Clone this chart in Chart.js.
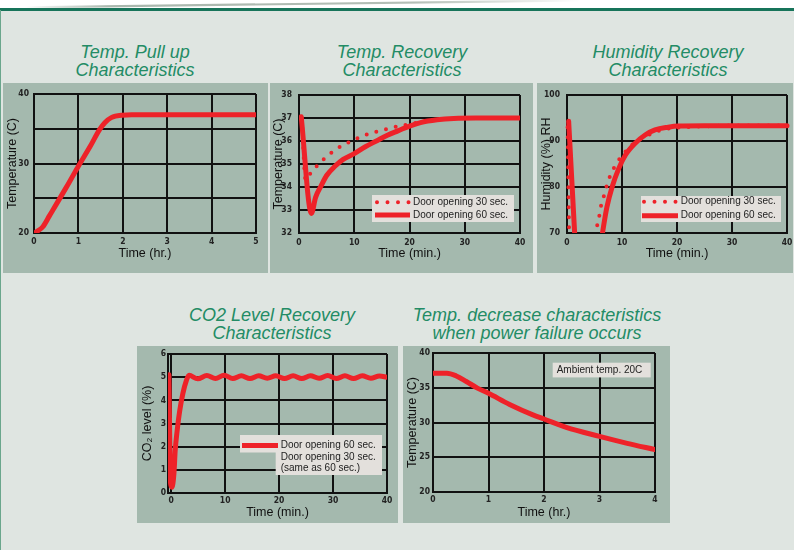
<!DOCTYPE html>
<html>
<head>
<meta charset="utf-8">
<script src="https://cdn.jsdelivr.net/npm/chart.js@4/dist/chart.umd.min.js"></script>
<style>
  html, body { margin: 0; padding: 0; }
  body { width: 794px; height: 550px; background: #dfe5e1; position: relative; overflow: hidden;
         font-family: "Liberation Sans", Arial, sans-serif; }
  .topband { position: absolute; left: 0; top: 0; width: 794px; height: 8px; background: #fff; }
  .rule { position: absolute; left: 0; top: 8px; width: 794px; height: 2.5px; background: #17745a; }
  .edge { position: absolute; left: 0; top: 10px; width: 1px; height: 540px; background: #6aa68c; }
  .panel { position: absolute; background: #a4b9ae; }
  .panel canvas { display: block; }
  .title { position: absolute; width: 320px; color: #238c65; font-style: italic; font-size: 18px;
           text-align: center; white-space: nowrap; }
</style>
</head>
<body>
<div class="topband"></div>
<svg style="position:absolute;left:0;top:0" width="794" height="11">
  <defs>
    <linearGradient id="swoosh" x1="0" x2="1" y1="0" y2="0">
      <stop offset="0" stop-color="#ffffff"/>
      <stop offset="0.15" stop-color="#a9b7ad"/>
      <stop offset="0.7" stop-color="#b4bfb7"/>
      <stop offset="1" stop-color="#ffffff"/>
    </linearGradient>
  </defs>
  <polygon points="25,6.2 580,-0.6 580,1.6 25,8.4" fill="url(#swoosh)"/>
</svg>
<div class="rule"></div>
<div class="edge"></div>

<div class="title" style="left:-25px;top:43px;line-height:18px">Temp. Pull up<br>Characteristics</div>
<div class="title" style="left:242px;top:43px;line-height:18px">Temp. Recovery<br>Characteristics</div>
<div class="title" style="left:508px;top:43px;line-height:18px">Humidity Recovery<br>Characteristics</div>
<div class="title" style="left:112px;top:307px;line-height:17.5px">CO2 Level Recovery<br>Characteristics</div>
<div class="title" style="left:377px;top:307px;line-height:17.5px">Temp. decrease characteristics<br>when power failure occurs</div>

<div class="panel" style="left:3px;top:83px;width:265px;height:190px"><canvas id="pullUp" width="265" height="190"></canvas></div>
<div class="panel" style="left:270px;top:83px;width:263px;height:190px"><canvas id="tempRecovery" width="263" height="190"></canvas></div>
<div class="panel" style="left:537px;top:83px;width:256px;height:190px"><canvas id="humidityRecovery" width="256" height="190"></canvas></div>
<div class="panel" style="left:137px;top:346px;width:261px;height:177px"><canvas id="co2Recovery" width="261" height="177"></canvas></div>
<div class="panel" style="left:403px;top:346px;width:267px;height:177px"><canvas id="powerFailure" width="267" height="177"></canvas></div>

<script>
// ---- Temp. pull up (hours / deg C)
const pullUpHours = [0.04, 0.2, 0.35, 0.73, 0.98, 1.26, 1.48, 1.6, 1.74, 1.98, 2.2, 3, 4, 5];
const pullUpTemp  = [20.1, 20.9, 22.5, 26.6, 29.4, 32.4, 34.9, 35.9, 36.6, 36.95, 37.0, 37.0, 37.0, 37.0];
const pullUpXTicks = [0, 1, 2, 3, 4, 5];
const pullUpXLabels = ['0', '1', '2', '3', '4', '5'];
const pullUpYTicks = [20, 25, 30, 35, 40];
const pullUpYLabels = ['20', '', '30', '', '40'];

// ---- Temp. recovery after door opening (minutes / deg C)
const recov60Min  = [0.4, 2.25, 3, 4, 5, 6.5, 8, 10, 12, 14, 16, 18, 20, 22, 25, 28, 32, 40];
const recov60Temp = [37.05, 32.85, 33.55, 34.05, 34.5, 34.9, 35.2, 35.45, 35.75, 36.0, 36.25, 36.45, 36.65, 36.8, 36.92, 36.98, 37.0, 37.0];
const recov30Min  = [0.5, 1.2, 2.1, 3.4, 4.8, 6.2, 7.8, 9.5, 11.3, 13, 14.8, 16.6, 18.4, 20.2, 23, 26, 30, 40];
const recov30Temp = [37.0, 34.3, 34.6, 34.95, 35.28, 35.55, 35.8, 36.0, 36.2, 36.34, 36.45, 36.57, 36.66, 36.74, 36.88, 36.95, 37.0, 37.0];
const minuteTicks = [0, 10, 20, 30, 40];
const minuteLabels = ['0', '10', '20', '30', '40'];
const recovYTicks = [32, 33, 34, 35, 36, 37, 38];
const recovYLabels = ['32', '33', '34', '35', '36', '37', '38'];

// ---- Humidity recovery (minutes / % RH); null = curve runs below the axis
const hum60Min = [0.3, 1.5, 3.8, 6.2, 6.45, 7.25, 8.2, 9.4, 10.6, 12.4, 14.2, 16, 18.4, 20.2, 25, 30, 40];
const hum60RH  = [94.3, 67.5, null, 68, 70, 75.6, 80, 84, 86.9, 89.5, 91.3, 92.4, 93, 93.25, 93.3, 93.3, 93.3];
const hum30Min = [0.1, 0.4, 2.8, 5.3, 5.5, 5.9, 6.2, 6.8, 7.25, 7.9, 8.8, 9.85, 11.05, 12.4, 14.1, 15.7, 17.5, 20, 25, 30, 40];
const hum30RH  = [93.0, 68.5, null, 69.5, 71.7, 73.9, 76, 78.4, 80.4, 82.6, 84.7, 86.6, 88.2, 89.8, 90.9, 91.8, 92.5, 92.9, 93.2, 93.35, 93.35];
const humYTicks = [70, 80, 90, 100];
const humYLabels = ['70', '80', '90', '100'];

// ---- CO2 level recovery (minutes / %)
const co2Min = [-0.43, -0.12, 0.12, 0.5, 0.74, 1.1, 1.54, 2.16, 2.8, 3.3,
                4.9, 6.6, 8.2, 9.8, 11.4, 13.0, 14.6, 16.2, 17.8, 19.4, 21.0, 22.6,
                24.2, 25.8, 27.4, 29.0, 30.6, 32.2, 33.8, 35.4, 37.0, 38.6, 40];
const co2Pct = [5.1, 0.4, 0.25, 0.84, 1.85, 2.7, 3.5, 4.3, 4.85, 5.08,
                4.93, 5.07, 4.94, 5.08, 4.94, 5.06, 4.94, 5.06, 4.95, 5.06, 4.94, 5.06,
                4.94, 5.06, 4.95, 5.07, 4.94, 5.06, 4.94, 5.06, 4.95, 5.05, 5.0];
const co2YTicks = [0, 1, 2, 3, 4, 5, 6];
const co2YLabels = ['0', '1', '2', '3', '4', '5', '6'];

// ---- Temp. decrease on power failure (hours / deg C)
const failHours = [0, 0.25, 0.42, 0.6, 0.8, 1.0, 1.38, 1.8, 2.0, 2.4, 3.0, 3.5, 4.0];
const failTemp  = [37.1, 37.1, 36.7, 35.9, 34.95, 34.2, 32.6, 31.1, 30.5, 29.3, 28.0, 27.0, 26.1];
const failXTicks = [0, 1, 2, 3, 4];
const failXLabels = ['0', '1', '2', '3', '4'];
const failYTicks = [20, 25, 30, 35, 40];
const failYLabels = ['20', '25', '30', '35', '40'];

const RED = '#ee2229';
const INK = '#111';
const TICK_FONT = { family: '"Liberation Sans Narrow", "DejaVu Sans Condensed", sans-serif', size: 8.5, weight: 'bold' };
const AXIS_FONT = { family: '"Liberation Sans", Arial, sans-serif', size: 12.5 };
const NOTE_FONT = '10px "Liberation Sans", Arial, sans-serif';

const zip = (xs, ys) => xs.map((x, i) => ({ x, y: ys[i] }));

// In-plot legend / note boxes, offsets relative to the plot area
const NOTES = {
  tempRecovery: {
    boxes: [[73, 100, 142, 27]],
    rows: [
      { sample: 'dot',  s0: 78, s1: 110, y: 107.3, tx: 114, text: 'Door opening 30 sec.' },
      { sample: 'line', s0: 76, s1: 111, y: 120,   tx: 114, text: 'Door opening 60 sec.' }
    ]
  },
  humidityRecovery: {
    boxes: [[74, 101, 140, 26]],
    rows: [
      { sample: 'dot',  s0: 77, s1: 109, y: 106.7, tx: 113.7, text: 'Door opening 30 sec.' },
      { sample: 'line', s0: 75, s1: 111, y: 120.7, tx: 113.7, text: 'Door opening 60 sec.' }
    ]
  },
  co2Recovery: {
    boxes: [[72, 81, 142, 17.5], [107.7, 98, 106.3, 23]],
    rows: [
      { sample: 'line', s0: 74, s1: 110, y: 91.5, tx: 112.7, text: 'Door opening 60 sec.' },
      { y: 103.7, tx: 112.7, text: 'Door opening 30 sec.' },
      { y: 114.7, tx: 112.7, text: '(same as 60 sec.)' }
    ]
  },
  powerFailure: {
    boxes: [[119.7, 9.7, 98, 14.7]],
    rows: [ { y: 17, tx: 123.7, text: 'Ambient temp. 20C' } ]
  }
};

const notePlugin = {
  id: 'panelNote',
  afterDatasetsDraw(chart) {
    const note = NOTES[chart.canvas.id];
    if (!note) return;
    const { ctx, chartArea: a } = chart;
    ctx.save();
    ctx.fillStyle = '#e3e0dc';
    note.boxes.forEach(b => ctx.fillRect(a.left + b[0], a.top + b[1], b[2], b[3]));
    ctx.font = NOTE_FONT;
    ctx.textBaseline = 'middle';
    ctx.textAlign = 'left';
    note.rows.forEach(r => {
      const y = a.top + r.y;
      if (r.sample) {
        ctx.beginPath();
        ctx.strokeStyle = RED;
        if (r.sample === 'dot') {
          ctx.setLineDash([0, 10.5]); ctx.lineCap = 'round'; ctx.lineWidth = 4;
        } else {
          ctx.setLineDash([]); ctx.lineCap = 'butt'; ctx.lineWidth = 5;
        }
        ctx.moveTo(a.left + r.s0, y);
        ctx.lineTo(a.left + r.s1, y);
        ctx.stroke();
      }
      ctx.fillStyle = '#222';
      ctx.fillText(r.text, a.left + r.tx, y);
    });
    ctx.restore();
  }
};

function solid(points, extra) {
  return Object.assign({ data: points, borderColor: RED, borderWidth: 5, pointRadius: 0,
    cubicInterpolationMode: 'monotone', borderCapStyle: 'round', borderJoinStyle: 'round', spanGaps: false }, extra || {});
}
function dotted(points, extra) {
  return Object.assign({ data: points, borderColor: RED, borderWidth: 4, pointRadius: 0,
    borderDash: [0, 10], borderCapStyle: 'round', cubicInterpolationMode: 'monotone', spanGaps: false }, extra || {});
}

function scaleOpts(ax) {
  const horizontal = ax.horizontal;
  return {
    type: 'linear', min: ax.min, max: ax.max,
    afterBuildTicks: s => { s.ticks = ax.ticks.map(v => ({ value: v })); },
    afterFit: s => {
      if (horizontal) s.height = ax.size; else s.width = ax.size;
      s.paddingTop = 0; s.paddingBottom = 0; s.paddingLeft = 0; s.paddingRight = 0;
    },
    ticks: { padding: ax.tickPad, autoSkip: false, maxRotation: 0, minRotation: 0,
             font: TICK_FONT, color: '#222', callback: (v, i) => ax.labels[i] },
    grid: { color: INK, lineWidth: 2, drawTicks: false },
    border: { color: INK, width: 2 },
    title: { display: true, text: ax.title, font: AXIS_FONT, color: '#111',
             padding: horizontal ? { top: 0, bottom: ax.titlePad } : { top: ax.titlePad, bottom: 0 } }
  };
}

function panelChart(id, cfg) {
  return new Chart(document.getElementById(id), {
    type: 'line',
    data: { datasets: cfg.datasets },
    options: {
      responsive: false, animation: false, devicePixelRatio: 1,
      layout: { padding: { top: cfg.pad[0], right: cfg.pad[1], bottom: 0, left: 0 } },
      plugins: { legend: { display: false }, tooltip: { enabled: false } },
      scales: {
        x: scaleOpts(Object.assign({ horizontal: true }, cfg.x)),
        y: scaleOpts(Object.assign({ horizontal: false }, cfg.y))
      }
    },
    plugins: [notePlugin]
  });
}

panelChart('pullUp', {
  pad: [11, 12],
  datasets: [ solid(zip(pullUpHours, pullUpTemp)) ],
  x: { min: 0, max: 5, ticks: pullUpXTicks, labels: pullUpXLabels, size: 40, tickPad: 4, title: 'Time (hr.)', titlePad: 11.5 },
  y: { min: 20, max: 40, ticks: pullUpYTicks, labels: pullUpYLabels, size: 31, tickPad: 5, title: 'Temperature (C)', titlePad: 2.5 }
});

panelChart('tempRecovery', {
  pad: [12, 13],
  datasets: [ solid(zip(recov60Min, recov60Temp)), dotted(zip(recov30Min, recov30Temp)) ],
  x: { min: 0, max: 40, ticks: minuteTicks, labels: minuteLabels, size: 40, tickPad: 4.5, title: 'Time (min.)', titlePad: 11.5 },
  y: { min: 32, max: 38, ticks: recovYTicks, labels: recovYLabels, size: 29, tickPad: 7, title: 'Temperature (C)', titlePad: 1.5 }
});

panelChart('humidityRecovery', {
  pad: [12, 6],
  datasets: [
    solid(zip(hum60Min, hum60RH), { clip: { left: 3, top: 3, right: 3, bottom: 0 } }),
    dotted(zip(hum30Min, hum30RH), { clip: { left: 3, top: 3, right: 3, bottom: 0 } })
  ],
  x: { min: 0, max: 40, ticks: minuteTicks, labels: minuteLabels, size: 40, tickPad: 4.5, title: 'Time (min.)', titlePad: 11.5 },
  y: { min: 70, max: 100, ticks: humYTicks, labels: humYLabels, size: 30, tickPad: 7, title: 'Humidity (%) RH', titlePad: 2 }
});

panelChart('co2Recovery', {
  pad: [8, 11],
  datasets: [ solid(zip(co2Min, co2Pct)) ],
  x: { min: -0.6, max: 40, ticks: minuteTicks, labels: minuteLabels, size: 30, tickPad: 3, title: 'Time (min.)', titlePad: 2.5 },
  y: { min: 0, max: 6, ticks: co2YTicks, labels: co2YLabels, size: 31, tickPad: 2, title: 'CO\u2082 level (%)', titlePad: 3 }
});

panelChart('powerFailure', {
  pad: [7, 15],
  datasets: [ solid(zip(failHours, failTemp)) ],
  x: { min: 0, max: 4, ticks: failXTicks, labels: failXLabels, size: 31, tickPad: 3, title: 'Time (hr.)', titlePad: 2.5 },
  y: { min: 20, max: 40, ticks: failYTicks, labels: failYLabels, size: 30, tickPad: 3, title: 'Temperature (C)', titlePad: 2.5 }
});
</script>
</body>
</html>
